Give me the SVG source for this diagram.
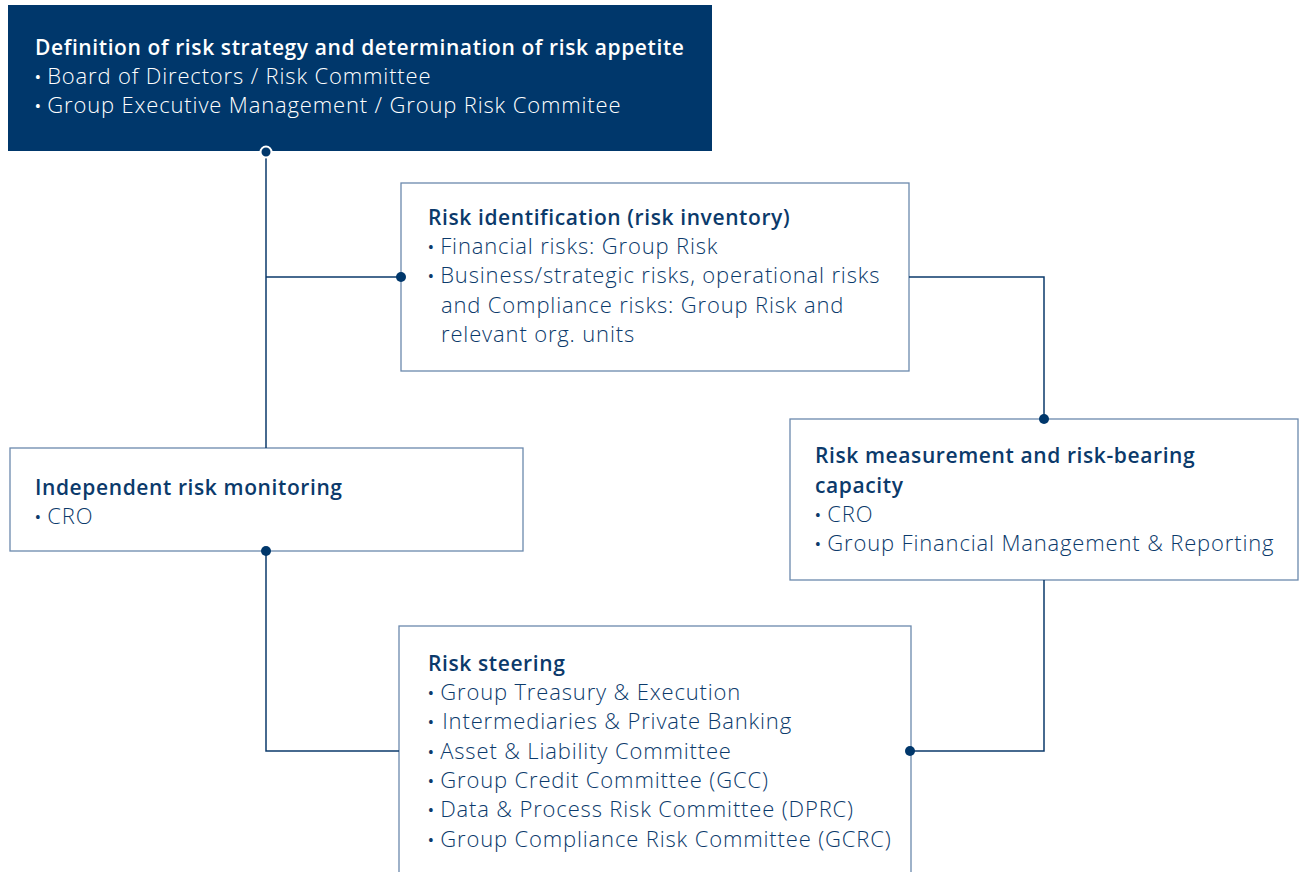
<svg xmlns="http://www.w3.org/2000/svg" width="1304" height="872" viewBox="0 0 1304 872">
<style>
.box{fill:#fff;stroke:#6b89ad;stroke-width:1.3}
.dark{fill:#00376b}
.t{font-family:"Open Sans","Noto Sans",sans-serif;font-size:22px;letter-spacing:0.85px;fill:#0b3a6b;font-weight:300}
.b{font-size:21px;font-weight:600;letter-spacing:0.6px}
.w{fill:#fff}
.bu{font-size:15px;font-weight:600;letter-spacing:0}
.ln{fill:none;stroke:#0b3a6b;stroke-width:1.5}
.dot{fill:#00376b}
</style>
<rect width="1304" height="872" fill="#fff"/>
<g id="node-strategy">
<rect class="dark" x="8" y="5" width="704" height="146"/>
<text class="t b w" x="35" y="55">Definition of risk strategy and determination of risk appetite</text>
<text class="t w" x="35" y="84"><tspan class="bu" dy="-2">•</tspan><tspan dy="2"> Board of Directors / Risk Committee</tspan></text>
<text class="t w" x="35" y="113"><tspan class="bu" dy="-2">•</tspan><tspan dy="2"> Group Executive Management / Group Risk Commitee</tspan></text>
</g>
<g id="node-identification">
<rect class="box" x="401" y="183" width="508" height="188"/>
<text class="t b" x="428" y="225">Risk identification (risk inventory)</text>
<text class="t" x="428" y="254"><tspan class="bu" dy="-2">•</tspan><tspan dy="2"> Financial risks: Group Risk</tspan></text>
<text class="t" x="428" y="283"><tspan class="bu" dy="-2">•</tspan><tspan dy="2"> Business/strategic risks, operational risks</tspan></text>
<text class="t" x="441" y="313">and Compliance risks: Group Risk and</text>
<text class="t" x="441" y="342">relevant org. units</text>
</g>
<g id="node-monitoring">
<rect class="box" x="10" y="448" width="513" height="103"/>
<text class="t b" x="35" y="495">Independent risk monitoring</text>
<text class="t" x="35" y="524"><tspan class="bu" dy="-2">•</tspan><tspan dy="2"> CRO</tspan></text>
</g>
<g id="node-measurement">
<rect class="box" x="790" y="419" width="508" height="161"/>
<text class="t b" x="815" y="463">Risk measurement and risk-bearing</text>
<text class="t b" x="815" y="493">capacity</text>
<text class="t" x="815" y="522"><tspan class="bu" dy="-2">•</tspan><tspan dy="2"> CRO</tspan></text>
<text class="t" x="815" y="551"><tspan class="bu" dy="-2">•</tspan><tspan dy="2"> Group Financial Management &amp; Reporting</tspan></text>
</g>
<g id="node-steering">
<rect class="box" x="399" y="626" width="512" height="260"/>
<text class="t b" x="428" y="671">Risk steering</text>
<text class="t" x="428" y="700"><tspan class="bu" dy="-2">•</tspan><tspan dy="2"> Group Treasury &amp; Execution</tspan></text>
<text class="t" x="428" y="729"><tspan class="bu" dy="-2">•</tspan><tspan dy="2" dx="2"> Intermediaries &amp; Private Banking</tspan></text>
<text class="t" x="428" y="759"><tspan class="bu" dy="-2">•</tspan><tspan dy="2"> Asset &amp; Liability Committee</tspan></text>
<text class="t" x="428" y="788"><tspan class="bu" dy="-2">•</tspan><tspan dy="2"> Group Credit Committee (GCC)</tspan></text>
<text class="t" x="428" y="817"><tspan class="bu" dy="-2">•</tspan><tspan dy="2"> Data &amp; Process Risk Committee (DPRC)</tspan></text>
<text class="t" x="428" y="847"><tspan class="bu" dy="-2">•</tspan><tspan dy="2"> Group Compliance Risk Committee (GCRC)</tspan></text>
</g>
<g id="connectors">
<path class="ln" d="M266 151V448M266 277H401M909 277H1044V419M1044 580V751H910M266 551V751H399"/>
<circle class="dot" cx="401" cy="277" r="5"/>
<circle class="dot" cx="1044" cy="419" r="5"/>
<circle class="dot" cx="266" cy="551" r="5"/>
<circle class="dot" cx="910" cy="751" r="5"/>
<circle cx="266" cy="152" r="5.5" fill="#00376b" stroke="#fff" stroke-width="2"/>
</g>
</svg>
